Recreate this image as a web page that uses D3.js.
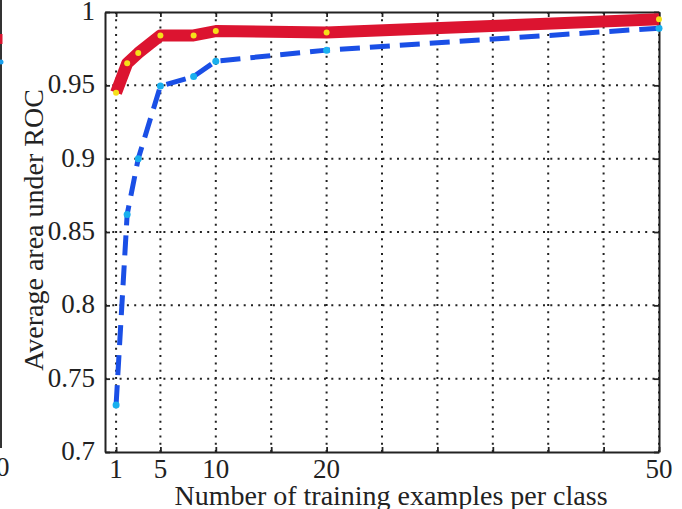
<!DOCTYPE html>
<html>
  <head>
    <script src="https://d3js.org/d3.v7.min.js"></script>
    <style>
      body { margin: 0; background: #fff; }
      text { font-family: "Liberation Serif", "DejaVu Serif", serif; fill: #222; }
    </style>
  </head>
  <body>
  <div id='chart'></div>
    <script type="text/javascript">

var w = 682,
    h = 509;

// data
var examples = [1, 2, 3, 5, 8, 10, 20, 50];
var solidAuc = [0.945, 0.965, 0.972, 0.984, 0.984, 0.987, 0.986, 0.995];
var dashedAuc = [0.732, 0.862, 0.900, 0.9495, 0.956, 0.9665, 0.974, 0.989];
var xGrid = [1, 5, 10, 15, 20, 25, 30, 35, 40, 45, 50];
var xLabels = [1, 5, 10, 20, 50];
var yTicks = [0.7, 0.75, 0.8, 0.85, 0.9, 0.95, 1];

var pLeft = 105, pRight = 659, pTop = 12, pBottom = 452;

var x = d3.scaleLinear().domain([0, 50]).range([pLeft, pRight]);
var y = d3.scaleLinear().domain([0.7, 1]).range([pBottom, pTop]);

var svg = d3.select("#chart").append("svg")
    .attr("width", w)
    .attr("height", h);

// sliver of the neighbouring panel on the left
var sliver = svg.append("g");
sliver.append("line").attr("x1", 1).attr("x2", 1).attr("y1", 0).attr("y2", 448)
  .attr("stroke", "#333").attr("stroke-width", 2);
sliver.append("line").attr("x1", 1).attr("x2", 1).attr("y1", 34).attr("y2", 44)
  .attr("stroke", "#d9142e").attr("stroke-width", 3);
sliver.append("circle").attr("cx", 1).attr("cy", 62).attr("r", 2.5).attr("fill", "#1aa0ee");
sliver.append("text").attr("x", -4).attr("y", 476).attr("font-size", "27px").text("0");

// grid
var grid = svg.append("g")
    .attr("stroke", "#222").attr("stroke-width", 2)
    .attr("stroke-dasharray", "2,5.3");
grid.selectAll("line.v").data(xGrid).enter().append("line")
  .attr("class", "v")
  .attr("x1", function(d){ return x(d); }).attr("x2", function(d){ return x(d); })
  .attr("y1", pTop).attr("y2", pBottom);
grid.selectAll("line.h").data(yTicks.slice(1, -1)).enter().append("line")
  .attr("class", "h")
  .attr("x1", pLeft).attr("x2", pRight)
  .attr("y1", function(d){ return y(d); }).attr("y2", function(d){ return y(d); });

// axes, ticks pointing inwards, mirrored on top and right
var xAxisB = d3.axisBottom(x).tickValues(xGrid).tickSizeInner(-5).tickSizeOuter(0).tickFormat("");
var xAxisT = d3.axisTop(x).tickValues(xGrid).tickSizeInner(-5).tickSizeOuter(0).tickFormat("");
var yAxisL = d3.axisLeft(y).tickValues(yTicks).tickSizeInner(-5).tickSizeOuter(0).tickFormat("");
var yAxisR = d3.axisRight(y).tickValues(yTicks).tickSizeInner(-5).tickSizeOuter(0).tickFormat("");

[[xAxisB, "translate(0," + pBottom + ")"],
 [xAxisT, "translate(0," + pTop + ")"],
 [yAxisL, "translate(" + pLeft + ",0)"],
 [yAxisR, "translate(" + pRight + ",0)"]].forEach(function(a){
  var g = svg.append("g").attr("transform", a[1]).call(a[0]);
  g.select(".domain").attr("stroke", "#222").attr("stroke-width", 2);
  g.selectAll(".tick line").attr("stroke", "#222").attr("stroke-width", 1.8);
});

// tick labels
svg.append("g").selectAll("text").data(xLabels).enter().append("text")
  .attr("x", function(d){ return x(d); })
  .attr("y", 478)
  .attr("text-anchor", "middle")
  .attr("font-size", "27px")
  .text(function(d){ return d; });

svg.append("g").selectAll("text").data(yTicks).enter().append("text")
  .attr("x", 95)
  .attr("y", function(d){ return y(d) + 8; })
  .attr("text-anchor", "end")
  .attr("font-size", "27px")
  .text(function(d){ return d; });

// axis titles
svg.append("text")
  .attr("x", 391).attr("y", 505)
  .attr("text-anchor", "middle")
  .attr("font-size", "28px")
  .text("Number of training examples per class");

svg.append("text")
  .attr("transform", "translate(43,230) rotate(-90)")
  .attr("text-anchor", "middle")
  .attr("font-size", "28px")
  .text("Average area under ROC");

// series
var line = d3.line()
  .x(function(d){ return x(d[0]); })
  .y(function(d){ return y(d[1]); });

var solid = examples.map(function(d, i){ return [d, solidAuc[i]]; });
var dashed = examples.map(function(d, i){ return [d, dashedAuc[i]]; });

svg.append("path").datum(dashed)
  .attr("d", line).attr("fill", "none")
  .attr("stroke", "#1a4fe6").attr("stroke-width", 5)
  .attr("stroke-dasharray", "20,10");
svg.selectAll("circle.d").data(dashed).enter().append("circle")
  .attr("class", "d")
  .attr("cx", function(d){ return x(d[0]); })
  .attr("cy", function(d){ return y(d[1]); })
  .attr("r", 3.5).attr("fill", "#1ab0ee");

svg.append("path").datum(solid)
  .attr("d", line).attr("fill", "none")
  .attr("stroke", "#dc1430").attr("stroke-width", 12)
  .attr("stroke-linejoin", "round");
svg.selectAll("circle.s").data(solid).enter().append("circle")
  .attr("class", "s")
  .attr("cx", function(d){ return x(d[0]); })
  .attr("cy", function(d){ return y(d[1]); })
  .attr("r", 3).attr("fill", "#f5e01a");

    </script>
  </body>
</html>
